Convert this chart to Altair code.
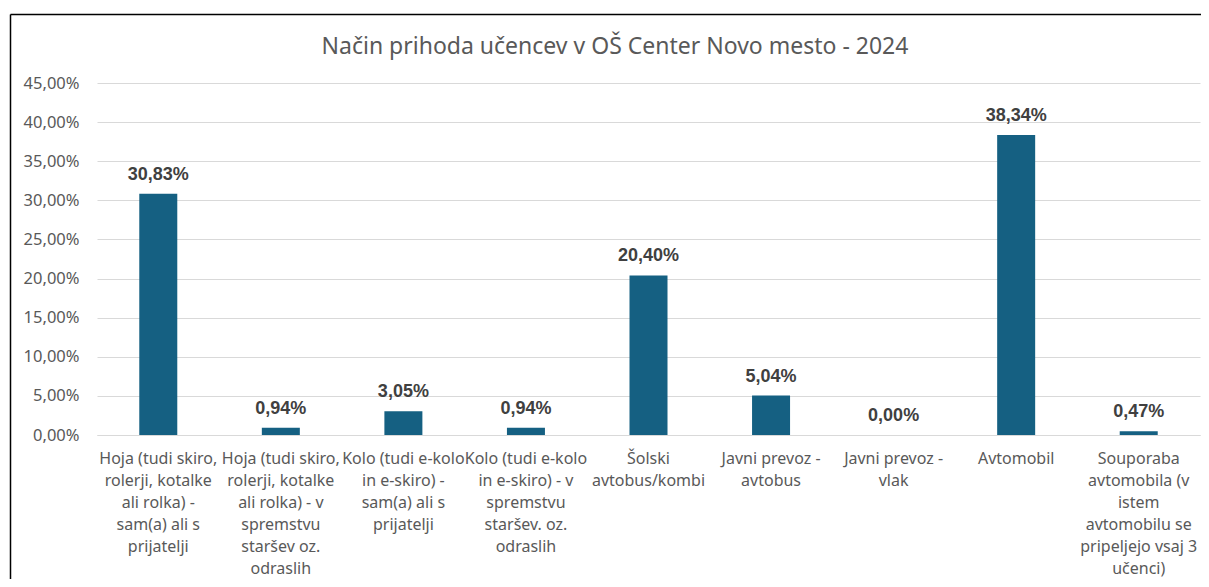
import altair as alt
import pandas as pd

categories = [
    "Hoja (tudi skiro,\nrolerji, kotalke\nali rolka) -\nsam(a) ali s\nprijatelji",
    "Hoja (tudi skiro,\nrolerji, kotalke\nali rolka) - v\nspremstvu\nstaršev oz.\nodraslih",
    "Kolo (tudi e-kolo\nin e-skiro) -\nsam(a) ali s\nprijatelji",
    "Kolo (tudi e-kolo\nin e-skiro) - v\nspremstvu\nstaršev. oz.\nodraslih",
    "Šolski\navtobus/kombi",
    "Javni prevoz -\navtobus",
    "Javni prevoz -\nvlak",
    "Avtomobil",
    "Souporaba\navtomobila (v\nistem\navtomobilu se\npripeljejo vsaj 3\nučenci)",
]
values = [30.83, 0.94, 3.05, 0.94, 20.40, 5.04, 0.00, 38.34, 0.47]
y_ticks = [0, 5, 10, 15, 20, 25, 30, 35, 40, 45]
title_text = "Način prihoda učencev v OŠ Center Novo mesto - 2024"

df = pd.DataFrame({
    "cat": categories,
    "value": values,
    "label": [f"{v:.2f}".replace(".", ",") + "%" for v in values],
})
title_df = pd.DataFrame({"t": [title_text]})

FONT = "Noto Sans"
GRAY = "#595959"

x_enc = alt.X(
    "cat:N", sort=None,
    scale=alt.Scale(paddingInner=0, paddingOuter=0),
    axis=alt.Axis(
        title=None, labelAngle=0, labelExpr="split(datum.value, '\\n')",
        labelLineHeight=22, labelPadding=15, ticks=False,
        domainColor="#d9d9d9", domainWidth=1, labelOverlap=False,
        labelFont=FONT, labelFontSize=16, labelColor=GRAY, labelLimit=0,
    ),
)
y_enc = alt.Y(
    "value:Q",
    scale=alt.Scale(domain=[0, 45], nice=False),
    axis=alt.Axis(
        title=None, values=y_ticks, ticks=False, domain=False,
        labelExpr="replace(format(datum.value, '.2f'), '.', ',') + '%'",
        labelPadding=18, gridColor="#d9d9d9", gridWidth=1, labelOverlap=False,
        labelFont=FONT, labelFontSize=16.5, labelColor=GRAY,
    ),
)

base = alt.Chart(df).encode(x=x_enc, y=y_enc)
bars = base.mark_bar(color="#156082", size=38)
texts = base.mark_text(
    font="Liberation Sans", fontSize=18, fontWeight="bold", color="#404040",
    baseline="alphabetic", dy=-14,
).encode(text="label:N")

title_mark = alt.Chart(title_df).mark_text(
    font=FONT, fontSize=23, color=GRAY, align="center", baseline="alphabetic",
).encode(x=alt.value(518), y=alt.value(-29), text="t:N")

frame_left = alt.Chart(title_df).mark_rule(color="#000000", strokeWidth=1.5).encode(
    x=alt.value(-86.5), y=alt.value(-68.5), y2=alt.value(600)
)
frame_top = alt.Chart(title_df).mark_rule(color="#000000", strokeWidth=1.5).encode(
    x=alt.value(-86.5), x2=alt.value(1300), y=alt.value(-68.5)
)

chart = alt.layer(bars, texts, title_mark, frame_left, frame_top).properties(
    width=1103, height=352,
    autosize=alt.AutoSizeParams(type="none"),
    padding={"left": 89, "top": 75, "right": 1, "bottom": 144},
).configure_view(stroke=None)

chart.save("out.html", embed_options={"renderer": "svg", "actions": False})
